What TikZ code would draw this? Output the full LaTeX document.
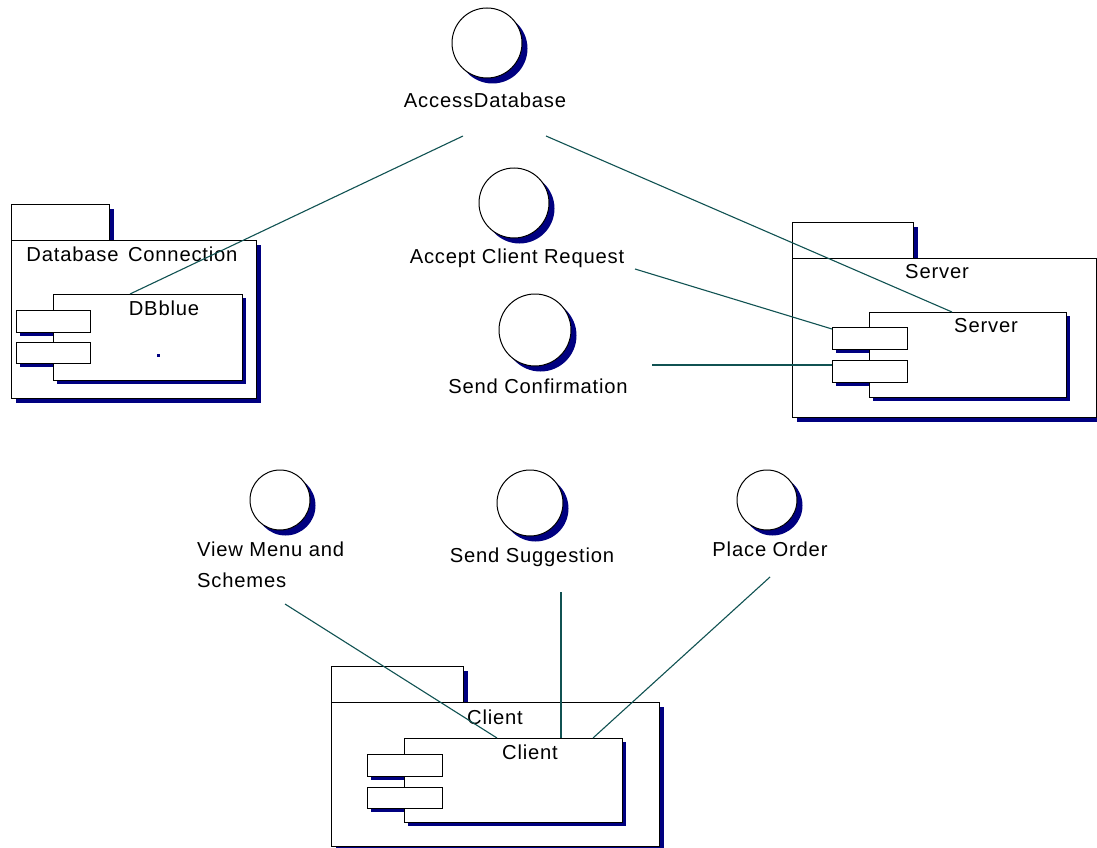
\documentclass[tikz,border=0pt]{standalone}
\usepackage{fontspec}
\setmainfont{Liberation Sans}[LetterSpace=4]
\usetikzlibrary{shadows}
\definecolor{navyc}{RGB}{0,0,128}
\definecolor{linkc}{RGB}{16,82,82}
\newcommand\lblfont{\fontsize{20.2}{31}\selectfont}
\tikzset{
  box/.style={draw=black, fill=white, line width=1pt, inner sep=0pt, outer sep=0pt, anchor=north west},
  pkgshadow/.style={drop shadow={shadow xshift=5pt, shadow yshift=-5pt, fill=navyc, opacity=1}},
  compshadow/.style={drop shadow={shadow xshift=4pt, shadow yshift=-4pt, fill=navyc, opacity=1}},
  iface/.style={circle, draw=black, fill=white, line width=1pt, inner sep=0pt, outer sep=0pt,
    drop shadow={shadow xshift=5.5pt, shadow yshift=-5.5pt, fill=navyc, opacity=1}},
  lbl/.style={inner sep=0pt, font=\lblfont},
  portshadow/.style={fill=navyc},
  link/.style={draw=linkc, line width=1.1pt}
}
\begin{document}
\begin{tikzpicture}[x=1pt, y=-1pt]
\useasboundingbox[fill=white] (0,0) rectangle (1097,848);

% ---------- Database Connection package ----------
\node[box, pkgshadow, minimum width=98pt, minimum height=36pt] (dbtab) at (11,204) {};
\node[box, pkgshadow, minimum width=245pt, minimum height=158pt] (dbpkg) at (11,240) {};
\node[lbl] (dbpkglbl) at (132,254) {Database\hspace{3pt} Connection};
\fill[portshadow] (20,314) rectangle (94,336);
\fill[portshadow] (20,346) rectangle (94,367);
\node[box, compshadow, minimum width=189pt, minimum height=86pt] (dbcomp) at (53,294) {};
\node[box, minimum width=74pt, minimum height=22pt] (dbp1) at (16,310) {};
\node[box, minimum width=74pt, minimum height=21pt] (dbp2) at (16,342) {};
\node[lbl] (dbcomplbl) at (164,308) {DBblue};
\fill[navyc] (157,354) rectangle (159.5,356.5);

% ---------- Server package ----------
\node[box, pkgshadow, minimum width=121pt, minimum height=36pt] (srvtab) at (792,222) {};
\node[box, pkgshadow, minimum width=304pt, minimum height=159pt] (srvpkg) at (792,258) {};
\node[lbl] (srvpkglbl) at (937,272) {Server};
\fill[portshadow] (836,331) rectangle (911,353);
\fill[portshadow] (836,364) rectangle (911,386);
\node[box, compshadow, minimum width=197pt, minimum height=85pt] (srvcomp) at (869,312) {};
\node[box, minimum width=75pt, minimum height=22pt] (srvp1) at (832,327) {};
\node[box, minimum width=75pt, minimum height=22pt] (srvp2) at (832,360) {};
\node[lbl] (srvcomplbl) at (986,326) {Server};

% ---------- Client package ----------
\node[box, pkgshadow, minimum width=132pt, minimum height=36pt] (clttab) at (331,666) {};
\node[box, pkgshadow, minimum width=328pt, minimum height=144pt] (cltpkg) at (331,702) {};
\node[lbl] (cltpkglbl) at (495,717) {Client};
\fill[portshadow] (371,758) rectangle (446,780);
\fill[portshadow] (371,791) rectangle (446,812);
\node[box, compshadow, minimum width=218pt, minimum height=84pt] (cltcomp) at (404,738) {};
\node[box, minimum width=75pt, minimum height=22pt] (cltp1) at (367,754) {};
\node[box, minimum width=75pt, minimum height=21pt] (cltp2) at (367,787) {};
\node[lbl] (cltcomplbl) at (530,752) {Client};

% ---------- Interfaces ----------
\node[iface, minimum size=70pt] (ad) at (487,43) {};
\node[lbl] (adlbl) at (485,100) {AccessDatabase};

\node[iface, minimum size=70pt] (acr) at (514,203) {};
\node[lbl] (acrlbl) at (517,258) {Accept Client Request};

\node[iface, minimum size=72pt] (sc) at (535,330) {};
\node[lbl] (sclbl) at (538,386) {Send Confirmation};

\node[iface, minimum size=60pt] (vm) at (280,500) {};
\node[lbl, align=left, anchor=west] (vmlbl) at (197,565) {View Menu and\\Schemes};

\node[iface, minimum size=66pt] (ss) at (530,503) {};
\node[lbl] (sslbl) at (532,557) {Send Suggestion};

\node[iface, minimum size=60pt] (po) at (767,500) {};
\node[lbl] (polbl) at (770,549) {Place Order};

% ---------- Realisation links ----------
\coordinate (adL) at (463,136);
\coordinate (adR) at (546,136);
\coordinate (acrE) at (635,269);
\coordinate (scE) at (652,365);
\coordinate (vmE) at (285,604);
\coordinate (ssE) at (561,592);
\coordinate (poE) at (770,577);

\draw[link] (adL) -- ([xshift=77pt]dbcomp.north west);
\draw[link] (adR) -- ([xshift=83pt]srvcomp.north west);
\draw[link] (acrE) -- ([yshift=-2pt]srvp1.north west);
\draw[link] (scE) -- ([yshift=-5pt]srvp2.north west);
\draw[link] (vmE) -- ([xshift=93pt]cltcomp.north west);
\draw[link] (ssE) -- ([xshift=157pt]cltcomp.north west);
\draw[link] (poE) -- ([xshift=189pt]cltcomp.north west);
\end{tikzpicture}
\end{document}
